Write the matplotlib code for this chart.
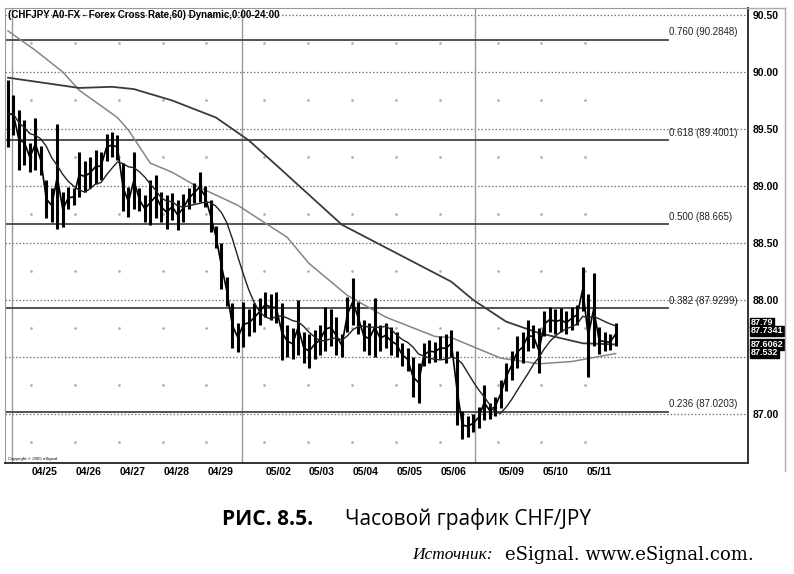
import numpy as np
import pandas as pd
import matplotlib
matplotlib.use('Agg')
import matplotlib.pyplot as plt
from matplotlib.lines import Line2D
import matplotlib.transforms as mtransforms

highs = [89.93, 89.80, 89.67, 89.58, 89.38, 89.60, 89.35, 89.05, 88.98, 89.54,
         88.95, 88.99, 88.98, 89.30, 89.22, 89.25, 89.32, 89.30, 89.46, 89.47,
         89.45, 89.20, 88.99, 89.30, 88.98, 88.92, 89.05, 89.10, 88.95, 88.92,
         88.94, 88.88, 88.93, 88.98, 89.03, 89.12, 89.00, 88.88, 88.65, 88.50,
         88.20, 87.97, 87.80, 87.98, 87.92, 87.97, 88.02, 88.07, 88.05, 88.07,
         87.97, 87.78, 87.75, 88.00, 87.72, 87.70, 87.74, 87.78, 87.94, 87.92,
         87.85, 87.70, 88.03, 88.19, 87.98, 87.82, 87.80, 88.02, 87.78, 87.80,
         87.76, 87.72, 87.62, 87.58, 87.50, 87.45, 87.62, 87.65, 87.63, 87.68,
         87.70, 87.74, 87.55, 87.03, 86.98, 87.00, 87.06, 87.25, 87.10, 87.15,
         87.30, 87.45, 87.55, 87.68, 87.72, 87.82, 87.78, 87.75, 87.90, 87.94,
         87.92, 87.93, 87.90, 87.94, 87.96, 88.29, 88.05, 88.24, 87.76, 87.72,
         87.70, 87.80]
lows = [89.34, 89.45, 89.14, 89.18, 89.12, 89.14, 89.10, 88.72, 88.68, 88.62,
        88.64, 88.80, 88.83, 88.90, 88.95, 88.98, 89.02, 89.05, 89.22, 89.25,
        89.23, 88.78, 88.73, 88.80, 88.78, 88.68, 88.66, 88.72, 88.68, 88.62,
        88.70, 88.61, 88.68, 88.80, 88.85, 88.86, 88.82, 88.60, 88.46, 88.10,
        87.95, 87.58, 87.54, 87.59, 87.68, 87.72, 87.78, 87.85, 87.82, 87.80,
        87.47, 87.50, 87.48, 87.52, 87.45, 87.40, 87.48, 87.52, 87.55, 87.60,
        87.52, 87.50, 87.72, 87.78, 87.70, 87.55, 87.52, 87.50, 87.55, 87.58,
        87.52, 87.50, 87.42, 87.38, 87.15, 87.10, 87.42, 87.45, 87.46, 87.48,
        87.45, 87.50, 86.90, 86.78, 86.80, 86.84, 86.88, 86.95, 86.96, 86.98,
        87.05, 87.20, 87.30, 87.40, 87.45, 87.55, 87.58, 87.36, 87.68, 87.72,
        87.70, 87.72, 87.70, 87.74, 87.78, 87.90, 87.32, 87.60, 87.53, 87.55,
        87.56, 87.60]

# moving averages as drawn (bar index, price)
slow_idx = [0, 13, 19, 23, 30, 38, 44, 50, 61, 69, 81, 85, 91, 97, 105, 111]
slow_val = [89.95, 89.86, 89.87, 89.85, 89.75, 89.60, 89.40, 89.14, 88.66, 88.46,
            88.16, 88.00, 87.81, 87.71, 87.62, 87.61]
mid_idx = [0, 5, 10, 13, 20, 22, 26, 30, 34, 42, 51, 55, 62, 69, 78, 81, 90, 97, 103, 111]
mid_val = [90.36, 90.19, 90.00, 89.84, 89.60, 89.49, 89.20, 89.12, 89.01, 88.83,
           88.55, 88.32, 88.04, 87.85, 87.68, 87.67, 87.49, 87.44, 87.46, 87.53]

fib_ratio = ['0.760', '0.618', '0.500', '0.382', '0.236']
fib_price = [90.2848, 89.4001, 88.665, 87.9299, 87.0203]

day_labels = ['04/25', '04/26', '04/27', '04/28', '04/29',
              '05/02', '05/03', '05/04', '05/05', '05/06',
              '05/09', '05/10', '05/11']
day_week = [0, 0, 0, 0, 0, 1, 1, 1, 1, 1, 2, 2, 2]

price_ticks = [87.0, 88.0, 88.5, 89.0, 89.5, 90.0, 90.5]
tag_text = ['87.79', '87.7341', '87.6062', '87.532']
tag_price = [87.80, 87.73, 87.61, 87.535]

hi = np.array(highs)
lo = np.array(lows)
x = np.arange(len(hi))
mids = (hi + lo) / 2
fast = pd.Series(mids).rolling(8, min_periods=1).mean()

# day centres: 8 bars a day, plus the Sunday bars at each weekend
bars_day = 8
sunday = 2.6
day_pos = 6.75 + bars_day * np.arange(len(day_labels)) + sunday * np.array(day_week)
week_ends = [day_pos[0] - 4 - sunday + 0.5, day_pos[4] + 4, day_pos[9] + 4]

fig = plt.figure(figsize=(7.94, 5.74), dpi=100)
ax = fig.add_axes([0.0063, 0.1934, 0.9358, 0.7926])
ax.set_xlim(-0.55, 135.2)
ax.set_ylim(86.57, 90.561)

# dotted grid
for p in np.arange(87.0, 90.51, 0.5):
    ax.axhline(p, color='#777777', lw=0.9, ls=(0, (1.2, 1.6)), zorder=1)
qx, qy = np.meshgrid(day_pos - 2.5, np.arange(86.75, 90.5, 0.5))
ax.scatter(qx.ravel(), qy.ravel(), s=0.8, color='#aaaaaa', zorder=1)

for w in week_ends:
    ax.axvline(w, color='#999999', lw=1.0, zorder=1)

# fibonacci levels
for r, p in zip(fib_ratio, fib_price):
    ax.plot([-0.55, 120.5], [p, p], color='#444444', lw=1.3, zorder=2)
    ax.text(120.8, p + 0.02, '%s (%s)' % (r, p), fontsize=7, color='#222222',
            family='Liberation Sans', va='bottom', ha='left')

# price bars
ax.vlines(x, lo, hi, color='black', lw=2.2, zorder=4)
ax.plot(x, mids, color='black', lw=1.2, zorder=4)

ax.plot(mid_idx, mid_val, color='#858585', lw=1.1, zorder=3)
ax.plot(slow_idx, slow_val, color='#3a3a3a', lw=1.3, zorder=3)
ax.plot(x, fast, color='#222222', lw=1.0, zorder=5)

ax.text(0.0, 90.545, '(CHFJPY A0-FX - Forex Cross Rate,60) Dynamic,0:00-24:00',
        fontsize=7, fontweight='bold', family='Liberation Sans', va='top', ha='left')
ax.text(0.0, 86.59, 'Copyright \u00a9 2005 eSignal', fontsize=3.2,
        family='Liberation Sans', va='bottom')

ax.yaxis.tick_right()
ax.set_yticks(price_ticks)
ax.set_yticklabels(['%.2f' % p for p in price_ticks], fontsize=7.5,
                   fontweight='bold', family='Liberation Sans')
ax.tick_params(axis='y', length=0, pad=3)
ax.set_xticks(day_pos)
ax.set_xticklabels(day_labels, fontsize=7.5, fontweight='bold', family='Liberation Sans')
ax.tick_params(axis='x', length=0, pad=3)

trans = mtransforms.blended_transform_factory(ax.transAxes, ax.transData)
for t, p in zip(tag_text, tag_price):
    ax.text(1.004, p, t, transform=trans, fontsize=6.5, fontweight='bold',
            family='Liberation Sans', color='white', va='center', ha='left',
            bbox=dict(boxstyle='square,pad=0.08', fc='black', ec='black'), zorder=6)

for s in ['top', 'left']:
    ax.spines[s].set_color('#999999')
for s in ['right', 'bottom']:
    ax.spines[s].set_color('#333333')
    ax.spines[s].set_linewidth(1.4)

# outer frame of the screenshot
fig.add_artist(Line2D([0.942, 0.9887], [0.986, 0.986], color='#aaaaaa', lw=1.0))
fig.add_artist(Line2D([0.9887, 0.9887], [0.986, 0.18], color='#aaaaaa', lw=1.0))

fig.text(0.2796, 0.0958, 'РИС. 8.5.', fontsize=15, fontweight='bold',
         family='Open Sans', va='center')
fig.text(0.4345, 0.0958, 'Часовой график CHF/JPY', fontsize=15,
         family='Open Sans', va='center')
fig.text(0.519, 0.033, 'Источник:', fontsize=12.5, style='italic',
         family='Liberation Serif', va='center')
fig.text(0.636, 0.033, 'eSignal. www.eSignal.com.', fontsize=13,
         family='DejaVu Serif', va='center')

fig.savefig('out.png', dpi=100)
